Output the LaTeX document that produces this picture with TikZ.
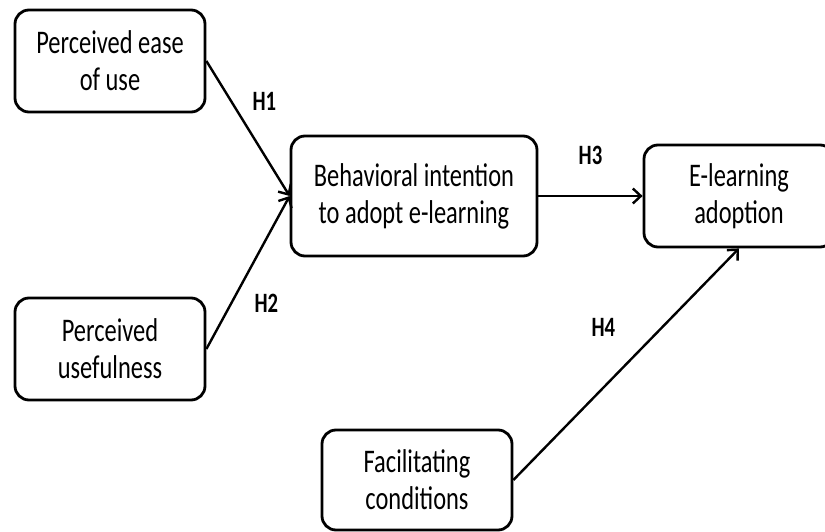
\documentclass[tikz,border=0pt]{standalone}
\usepackage{fontspec}
\setmainfont{Carlito}[FakeStretch=0.74]
\usetikzlibrary{arrows.meta}
\usetikzlibrary{positioning}
\tikzset{>={Straight Barb[length=8pt,width=15pt]}}
\tikzset{
  construct/.style={draw,rounded corners=14pt,line width=2.8pt,align=center,
    font=\fontsize{33}{37}\selectfont,inner sep=0pt},
  hyp/.style={font=\fontsize{28}{30}\selectfont\bfseries,inner sep=0pt}
}

\begin{document}
\begin{tikzpicture}[x=1pt,y=1pt,line width=2.4pt]
  \useasboundingbox (0,0) rectangle (825,531);
  \def\bw{190pt}
  \def\bh{102pt}

  % antecedents
  \node[construct,minimum width=\bw,minimum height=\bh] (peou) at (110,470) {Perceived ease\\of use};
  \node[construct,minimum width=\bw,minimum height=\bh] (pu) at (110,182) {Perceived\\usefulness};

  % intention and adoption
  \node[construct,minimum width=246pt,minimum height=120pt] (bi) at (414,335) {Behavioral intention\\to adopt e-learning};
  \node[construct,minimum width=\bw,minimum height=\bh] (ela) at (739,335) {E-learning\\adoption};

  % Facilitating conditions
  \node[construct,minimum width=\bw,minimum height=100pt] (fc) at (417,51) {Facilitating\\conditions};

  \draw[->] (peou.east) -- node[hyp,pos=0.3,right=20pt] (h1) {H1} (bi.west);
  \draw[->] (pu.east) -- node[hyp,pos=0.3,right=22pt] (h2) {H2} (bi.west);
  \draw[->] (bi.east) -- node[hyp,above=30pt] (h3) {H3} (ela.west);
  \draw[->] (fc.east) -- node[hyp,pos=0.66,left=46pt] (h4) {H4} (ela.south);
\end{tikzpicture}
\end{document}
